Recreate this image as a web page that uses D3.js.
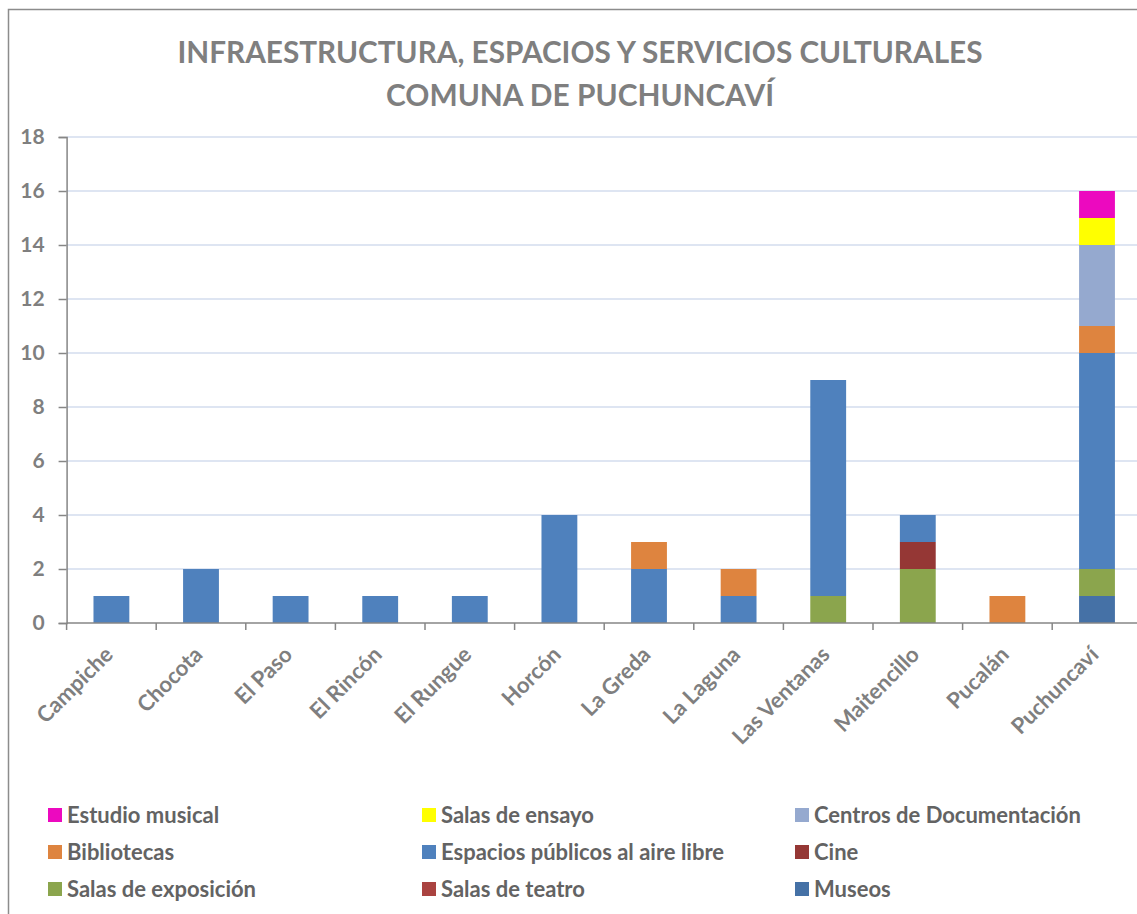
<!DOCTYPE html>
<html>
<head>
<meta charset="utf-8">
<script src="https://cdn.jsdelivr.net/npm/d3@7"></script>
<style>
  body { margin: 0; background: #fff; }
  svg { display: block; font-family: Lato, "Open Sans", sans-serif; }
</style>
</head>
<body>
<div id="chart"></div>
<script>
var width = 1137;
var height = 914;

var categories = ["Campiche", "Chocota", "El Paso", "El Rincón", "El Rungue", "Horcón",
  "La Greda", "La Laguna", "Las Ventanas", "Maitencillo", "Pucalán", "Puchuncaví"];

// stacked bottom to top
var museos      = [0, 0, 0, 0, 0, 0, 0, 0, 0, 0, 0, 1];
var teatro      = [0, 0, 0, 0, 0, 0, 0, 0, 0, 0, 0, 0];
var exposicion  = [0, 0, 0, 0, 0, 0, 0, 0, 1, 2, 0, 1];
var cine        = [0, 0, 0, 0, 0, 0, 0, 0, 0, 1, 0, 0];
var espacios    = [1, 2, 1, 1, 1, 4, 2, 1, 8, 1, 0, 8];
var bibliotecas = [0, 0, 0, 0, 0, 0, 1, 1, 0, 0, 1, 1];
var centros     = [0, 0, 0, 0, 0, 0, 0, 0, 0, 0, 0, 3];
var ensayo      = [0, 0, 0, 0, 0, 0, 0, 0, 0, 0, 0, 1];
var estudio     = [0, 0, 0, 0, 0, 0, 0, 0, 0, 0, 0, 1];

var yTicks = [0, 2, 4, 6, 8, 10, 12, 14, 16, 18];

var series = [
  {name: "Museos", values: museos, color: "#4571a6"},
  {name: "Salas de teatro", values: teatro, color: "#aa4340"},
  {name: "Salas de exposición", values: exposicion, color: "#8ba54d"},
  {name: "Cine", values: cine, color: "#953735"},
  {name: "Espacios públicos al aire libre", values: espacios, color: "#4f81bd"},
  {name: "Bibliotecas", values: bibliotecas, color: "#de843f"},
  {name: "Centros de Documentación", values: centros, color: "#95a9cf"},
  {name: "Salas de ensayo", values: ensayo, color: "#ffff00"},
  {name: "Estudio musical", values: estudio, color: "#ec09bf"}
];

// legend layout order (as in the picture)
var legendOrder = ["Estudio musical", "Salas de ensayo", "Centros de Documentación",
  "Bibliotecas", "Espacios públicos al aire libre", "Cine",
  "Salas de exposición", "Salas de teatro", "Museos"];

var rows = categories.map(function(c, i) {
  var r = {cat: c};
  series.forEach(function(s) { r[s.name] = s.values[i]; });
  return r;
});

var svg = d3.select("#chart")
  .append("svg")
  .attr("width", width)
  .attr("height", height);

// chart frame
svg.append("rect")
  .attr("x", 8.5)
  .attr("y", 9.5)
  .attr("width", 1140)
  .attr("height", 920)
  .attr("fill", "none")
  .attr("stroke", "#8c8c8c")
  .attr("stroke-width", 1.5);

// title
var titleLines = ["INFRAESTRUCTURA, ESPACIOS Y SERVICIOS CULTURALES", "COMUNA DE PUCHUNCAVÍ"];
var titleWidths = [805, 388];
svg.selectAll(".title")
  .data(titleLines)
  .enter()
  .append("text")
  .attr("class", "title")
  .attr("x", 580)
  .attr("y", function(d, i) { return 63 + i * 43; })
  .attr("text-anchor", "middle")
  .attr("font-size", 30)
  .attr("font-weight", "bold")
  .attr("fill", "#7f7f7f")
  .attr("textLength", function(d, i) { return titleWidths[i]; })
  .attr("lengthAdjust", "spacingAndGlyphs")
  .text(function(d) { return d; });

var xScale = d3.scaleBand()
  .domain(categories)
  .range([66.6, 1141.8])
  .paddingInner(0.6)
  .paddingOuter(0.3);

var yScale = d3.scaleLinear()
  .domain([0, 18])
  .range([623, 137]);

// gridlines
svg.append("g")
  .selectAll("line")
  .data(yTicks.filter(function(d) { return d > 0; }))
  .enter()
  .append("line")
  .attr("x1", 66.6)
  .attr("x2", 1141.8)
  .attr("y1", function(d) { return yScale(d); })
  .attr("y2", function(d) { return yScale(d); })
  .attr("stroke", "#d3ddee")
  .attr("stroke-width", 1.5);

// bars
var stack = d3.stack().keys(series.map(function(s) { return s.name; }));
var stacked = stack(rows);

svg.append("g")
  .selectAll("g")
  .data(stacked)
  .enter()
  .append("g")
  .attr("fill", function(d, i) { return series[i].color; })
  .selectAll("rect")
  .data(function(d) { return d.filter(function(p) { return p[1] > p[0]; }); })
  .enter()
  .append("rect")
  .attr("x", function(d) { return xScale(d.data.cat); })
  .attr("y", function(d) { return yScale(d[1]); })
  .attr("width", xScale.bandwidth())
  .attr("height", function(d) { return yScale(d[0]) - yScale(d[1]); });

// y axis
var yAxis = svg.append("g")
  .attr("transform", "translate(66.6,0)")
  .call(d3.axisLeft(yScale).tickValues(yTicks).tickSize(8).tickPadding(14));
yAxis.select(".domain").attr("stroke", "#868686").attr("stroke-width", 1.5);
yAxis.selectAll(".tick line").attr("stroke", "#868686").attr("stroke-width", 1.5);
yAxis.selectAll(".tick text")
  .attr("font-family", "Lato, 'Open Sans', sans-serif")
  .attr("font-size", 21)
  .attr("font-weight", "bold")
  .attr("fill", "#7f7f7f");

// x axis
var step = xScale.step();
var xAxis = svg.append("g")
  .attr("transform", "translate(0,623)");
xAxis.append("line")
  .attr("x1", 66.6)
  .attr("x2", 1141.8)
  .attr("stroke", "#868686")
  .attr("stroke-width", 1.5);
xAxis.selectAll(".xtick")
  .data(categories)
  .enter()
  .append("line")
  .attr("class", "xtick")
  .attr("x1", function(d) { return xScale(d) - step * 0.3; })
  .attr("x2", function(d) { return xScale(d) - step * 0.3; })
  .attr("y1", 0)
  .attr("y2", 7)
  .attr("stroke", "#868686")
  .attr("stroke-width", 1.5);
xAxis.selectAll(".xlabel")
  .data(categories)
  .enter()
  .append("text")
  .attr("class", "xlabel")
  .attr("transform", function(d) {
    return "translate(" + (xScale(d) + xScale.bandwidth() / 2 + 3) + ",33) rotate(-45)";
  })
  .attr("text-anchor", "end")
  .attr("font-size", 22)
  .attr("font-weight", "bold")
  .attr("fill", "#7f7f7f")
  .text(function(d) { return d; });

// legend
var legendCols = [48, 422, 795];
var legendRows = [815, 852, 889];
var colorOf = {};
series.forEach(function(s) { colorOf[s.name] = s.color; });

var legend = svg.append("g")
  .selectAll("g")
  .data(legendOrder)
  .enter()
  .append("g")
  .attr("transform", function(d, i) {
    return "translate(" + legendCols[i % 3] + "," + legendRows[Math.floor(i / 3)] + ")";
  });
legend.append("rect")
  .attr("x", 0)
  .attr("y", -7)
  .attr("width", 14)
  .attr("height", 14)
  .attr("fill", function(d) { return colorOf[d]; });
legend.append("text")
  .attr("x", 19)
  .attr("y", 7.5)
  .attr("font-size", 22)
  .attr("font-weight", "bold")
  .attr("fill", "#636363")
  .text(function(d) { return d; });
</script>
</body>
</html>
